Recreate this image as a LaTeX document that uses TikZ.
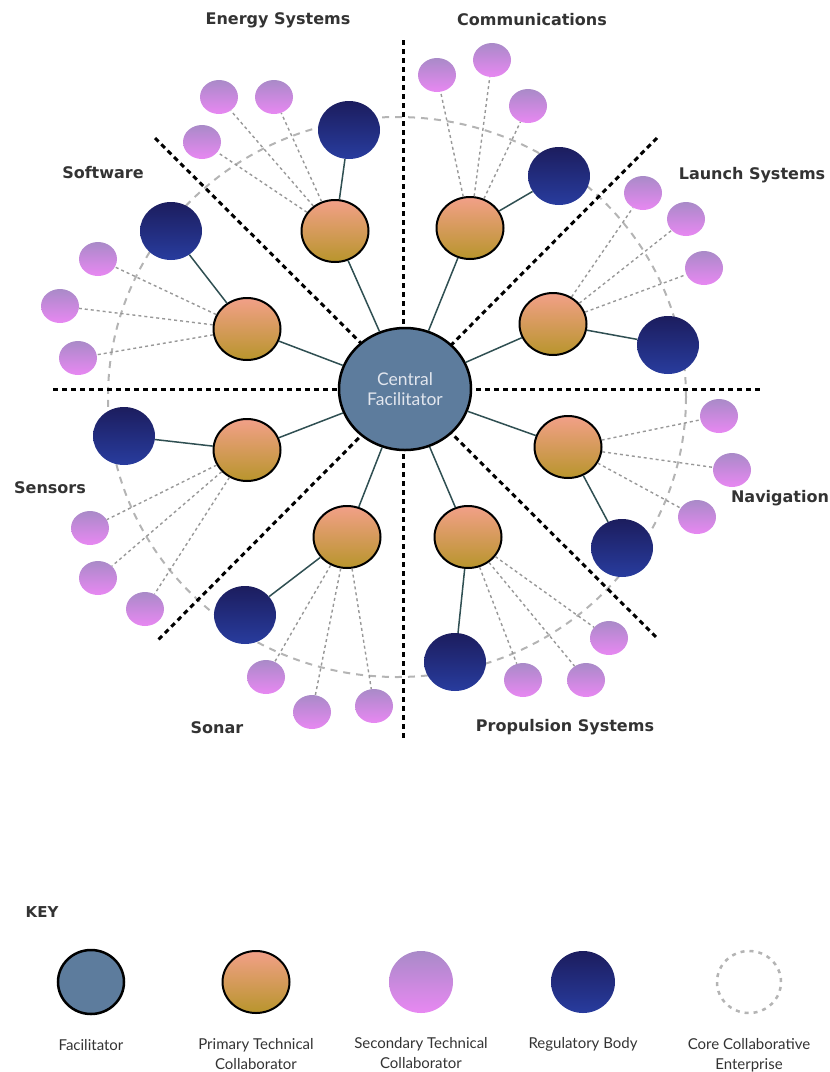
\documentclass[tikz,border=0pt]{standalone}
\usepackage{fontspec}
\setmainfont{Lato}
\newfontfamily\headfont{DejaVu Sans}
\usetikzlibrary{shapes.geometric, positioning, backgrounds}

\definecolor{facblue}{HTML}{5D7C9D}
\definecolor{factext}{HTML}{E2E6EE}
\definecolor{pritop}{HTML}{F2A088}
\definecolor{pribot}{HTML}{B8952C}
\definecolor{regtop}{HTML}{1C1D5E}
\definecolor{regbot}{HTML}{283C9E}
\definecolor{sectop}{HTML}{A98AC8}
\definecolor{secbot}{HTML}{E888F2}
\definecolor{linkcol}{HTML}{2F4F52}
\definecolor{dotcol}{HTML}{989898}
\definecolor{ringcol}{HTML}{B4B4B4}
\definecolor{labtext}{HTML}{333333}

\begin{document}
\begin{tikzpicture}[
    x=1pt, y=-1pt,
    fac/.style={
      ellipse, draw=black, line width=2.5pt, fill=facblue,
      minimum width=132pt, minimum height=122pt, inner sep=0pt,
      align=center, text=factext, font=\fontsize{17.5}{20}\selectfont
    },
    pri/.style={
      ellipse, draw=black, line width=2pt, top color=pritop,
      bottom color=pribot, minimum width=67pt, minimum height=62pt,
      inner sep=0pt
    },
    reg/.style={
      ellipse, top color=regtop, bottom color=regbot,
      minimum width=62pt, minimum height=58pt, inner sep=0pt
    },
    sec/.style={
      ellipse, top color=sectop, bottom color=secbot,
      minimum width=38pt, minimum height=34pt, inner sep=0pt
    },
    core/.style={
      ellipse, draw=ringcol, line width=2.5pt, dash pattern=on 4pt off 5pt,
      minimum width=64pt, minimum height=62pt, inner sep=0pt
    },
    link/.style={linkcol, line width=1.5pt},
    dotlink/.style={dotcol, line width=1.4pt, dash pattern=on 3pt off 3pt},
    divider/.style={black, line width=3pt, dash pattern=on 5pt off 4pt},
    ring/.style={ringcol, line width=2pt, dash pattern=on 7pt off 6pt},
    grouplabel/.style={font=\headfont\bfseries\fontsize{16}{18}\selectfont, text=labtext},
    keylabel/.style={font=\fontsize{15}{20}\selectfont, text=labtext, align=center, anchor=north}
  ]
  \useasboundingbox (0,0) rectangle (830,1072);

  % Central facilitator
  \node[fac] (cf) at (405,389) {Central\\Facilitator};

  % Primary technical collaborators
  \node[pri] (en) at (335,231) {};
  \node[pri] (co) at (470,228) {};
  \node[pri] (la) at (553,324) {};
  \node[pri] (na) at (568,447) {};
  \node[pri] (pr) at (468,537) {};
  \node[pri] (so) at (347,537) {};
  \node[pri] (se) at (247,450) {};
  \node[pri] (sw) at (247,329) {};

  % Regulatory bodies
  \node[reg] (enr) at (349,130) {};
  \node[reg] (cor) at (559,176) {};
  \node[reg] (lar) at (668,345) {};
  \node[reg] (nar) at (622,548) {};
  \node[reg] (prr) at (455,662) {};
  \node[reg] (sor) at (245,615) {};
  \node[reg] (ser) at (124,436) {};
  \node[reg] (swr) at (171,231) {};

  % Secondary technical collaborators
  \node[sec] (en1) at (219,97) {};
  \node[sec] (en2) at (274,97) {};
  \node[sec] (en3) at (202,142) {};
  \node[sec] (co1) at (437,75) {};
  \node[sec] (co2) at (492,60) {};
  \node[sec] (co3) at (528,106) {};
  \node[sec] (la1) at (643,193) {};
  \node[sec] (la2) at (686,219) {};
  \node[sec] (la3) at (704,268) {};
  \node[sec] (na1) at (719,416) {};
  \node[sec] (na2) at (732,470) {};
  \node[sec] (na3) at (697,517) {};
  \node[sec] (pr1) at (609,638) {};
  \node[sec] (pr2) at (586,680) {};
  \node[sec] (pr3) at (523,680) {};
  \node[sec] (so1) at (374,706) {};
  \node[sec] (so2) at (312,712) {};
  \node[sec] (so3) at (266,677) {};
  \node[sec] (se1) at (90,528) {};
  \node[sec] (se2) at (98,578) {};
  \node[sec] (se3) at (145,609) {};
  \node[sec] (sw1) at (98,259) {};
  \node[sec] (sw2) at (60,306) {};
  \node[sec] (sw3) at (78,358) {};

  % Facilitator to primaries, primaries to regulators and secondaries
  \foreach \g in {en,co,la,na,pr,so,se,sw}{
    \draw[link] (cf) -- (\g);
    \draw[link] (\g) -- (\g r);
    \draw[dotlink] (\g) -- (\g 1);
    \draw[dotlink] (\g) -- (\g 2);
    \draw[dotlink] (\g) -- (\g 3);
  }

  % Sector dividers and enterprise ring
  \coordinate (vt) at (403,40);
  \coordinate (vb) at (403,740);
  \coordinate (hl) at (53,389);
  \coordinate (hr) at (762,389);
  \coordinate (dtl) at (155,138);
  \coordinate (dbr) at (657,638);
  \coordinate (dtr) at (657,138);
  \coordinate (dbl) at (158,640);
  \begin{scope}[on background layer]
    \draw[ring] (397,397) ellipse [x radius=289, y radius=280];
    \draw[divider] (vt) -- (vb);
    \draw[divider] (hl) -- (hr);
    \draw[divider] (dtl) -- (dbr);
    \draw[divider] (dtr) -- (dbl);
  \end{scope}

  % Sector labels
  \node[grouplabel] (lben) at (278,20)  {Energy Systems};
  \node[grouplabel] (lbco) at (532,20)  {Communications};
  \node[grouplabel] (lbsw) at (103,173) {Software};
  \node[grouplabel] (lbla) at (752,175) {Launch Systems};
  \node[grouplabel] (lbna) at (780,498) {Navigation};
  \node[grouplabel] (lbse) at (50,488)  {Sensors};
  \node[grouplabel] (lbso) at (217,728) {Sonar};
  \node[grouplabel] (lbpr) at (565,727) {Propulsion Systems};

  % Key
  \node[font=\headfont\bfseries\fontsize{15}{17}\selectfont, text=labtext] (key) at (42,912) {KEY};
  \node[fac, minimum width=66pt, minimum height=64pt] (kfac) at (91,982) {};
  \node[pri] (kpri) at (256,982) {};
  \node[sec, minimum width=64pt, minimum height=62pt] (ksec) at (421,982) {};
  \node[reg, minimum width=64pt, minimum height=62pt] (kreg) at (583,982) {};
  \node[core] (kcore) at (749,982) {};

  \node[keylabel, below=21pt of kfac]  {Facilitator};
  \node[keylabel, below=21pt of kpri]  {Primary Technical\\Collaborator};
  \node[keylabel, below=21pt of ksec]  {Secondary Technical\\Collaborator};
  \node[keylabel, below=21pt of kreg]  {Regulatory Body};
  \node[keylabel, below=21pt of kcore] {Core Collaborative\\Enterprise};
\end{tikzpicture}
\end{document}
